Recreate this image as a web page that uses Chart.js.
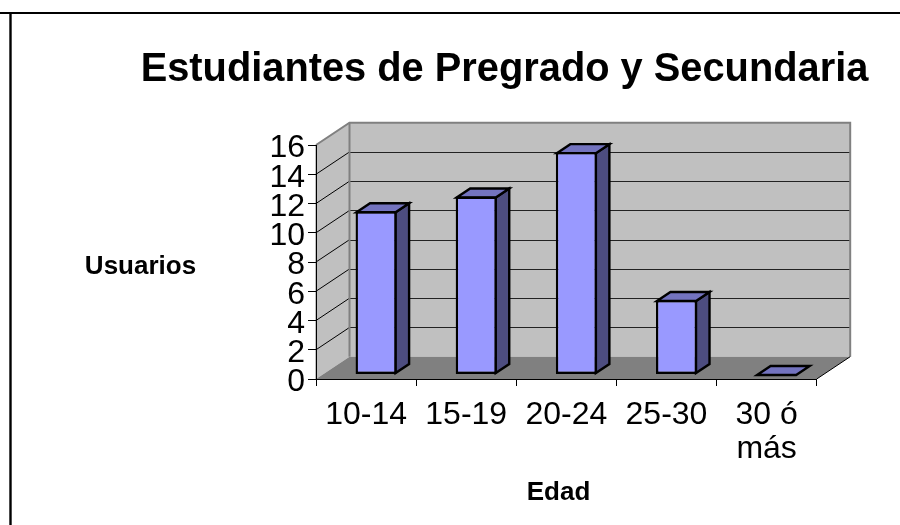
<!DOCTYPE html>
<html><head><meta charset="utf-8">
<style>html,body{margin:0;padding:0;background:#fff}#w{position:relative;width:900px;height:525px}canvas{display:block}</style>
<script src="https://cdn.jsdelivr.net/npm/chart.js@4"></script></head>
<body><div id="w"><canvas id="c" width="900" height="525"></canvas></div>
<script>
const categories = ['10-14','15-19','20-24','25-30',['30 ó','más']];
const users = [11,12,15,5,0];
const yTicks = [0,2,4,6,8,10,12,14,16];
const chartTitle = 'Estudiantes de Pregrado y Secundaria';
const yTitle = 'Usuarios';
const xTitle = 'Edad';

const wallDx = 33.5, wallDy = -22.3, barDx = 13.5, barDy = -9, shiftX = 10, shiftY = -5;
const F = 'Arial, "Liberation Sans", sans-serif';

function poly(ctx, pts, fill, stroke, lw){
  ctx.beginPath();
  pts.forEach((p,i)=> i?ctx.lineTo(p[0],p[1]):ctx.moveTo(p[0],p[1]));
  ctx.closePath();
  if(fill){ctx.fillStyle=fill;ctx.fill();}
  if(stroke){ctx.strokeStyle=stroke;ctx.lineWidth=lw;ctx.lineJoin='miter';ctx.stroke();}
}
function line(ctx,x1,y1,x2,y2,c,w){ctx.strokeStyle=c;ctx.lineWidth=w;ctx.beginPath();ctx.moveTo(x1,y1);ctx.lineTo(x2,y2);ctx.stroke();}

const box3d = {
  id:'box3d',
  beforeDraw(chart){
    const ctx=chart.ctx, a=chart.chartArea, ys=chart.scales.y;
    const L=a.left,R=a.right,T=a.top,B=a.bottom;
    ctx.save();
    // frame
    line(ctx,0,13,900,13,'#000',2);
    line(ctx,10.5,12,10.5,525,'#000',2.4);
    // walls
    poly(ctx,[[L+wallDx,T+wallDy],[R+wallDx,T+wallDy],[R+wallDx,B+wallDy],[L+wallDx,B+wallDy]],'#c0c0c0');
    poly(ctx,[[L,T],[L+wallDx,T+wallDy],[L+wallDx,B+wallDy],[L,B]],'#c0c0c0');
    poly(ctx,[[L,B],[L+wallDx,B+wallDy],[R+wallDx,B+wallDy],[R,B]],'#808080');
    // gridlines
    yTicks.forEach(v=>{
      if(v===0||v===16) return;
      const y=ys.getPixelForValue(v);
      line(ctx,L,y,L+wallDx,y+wallDy,'#000',1);
      line(ctx,L+wallDx,Math.round(y+wallDy)+.5,R+wallDx,Math.round(y+wallDy)+.5,'#222',1);
    });
    // wall edges
    ctx.lineJoin='miter';
    ctx.strokeStyle='#808080';ctx.lineWidth=2;
    ctx.beginPath();ctx.moveTo(L,T);ctx.lineTo(L+wallDx,T+wallDy);ctx.lineTo(R+wallDx,T+wallDy);ctx.lineTo(R+wallDx,B+wallDy);ctx.stroke();
    ctx.beginPath();ctx.moveTo(L+wallDx,T+wallDy);ctx.lineTo(L+wallDx,B+wallDy);ctx.stroke();
    line(ctx,L,T,L,B,'#808080',1);
    line(ctx,R,B,R+wallDx,B+wallDy,'#000',1);
    ctx.restore();
  },
  beforeDatasetsDraw(chart){
    const ctx=chart.ctx;
    ctx.save();
    ctx.translate(shiftX,shiftY);
    chart.getDatasetMeta(0).data.forEach(el=>{
      const p=el.getProps(['x','y','base','width'],true);
      const l=p.x-p.width/2+1,r=p.x+p.width/2-1,t=p.y+1,b=p.base-1;
      if(b>t) poly(ctx,[[r,t],[r+barDx,t+barDy],[r+barDx,b+barDy],[r,b]],'#4d4d80','#000',2.4);
      poly(ctx,[[l,t],[l+barDx,t+barDy],[r+barDx,t+barDy],[r,t]],'#7373bf','#000',2.4);
    });
  },
  afterDatasetsDraw(chart){
    chart.ctx.restore();
  },
  afterDraw(chart){
    const ctx=chart.ctx;
    ctx.save();
    ctx.fillStyle='#000';ctx.textAlign='center';ctx.textBaseline='alphabetic';
    ctx.font='bold 39.8px '+F;ctx.fillText(chartTitle,504.5,81);
    ctx.font='bold 26px '+F;ctx.fillText(yTitle,140.5,274);
    ctx.fillText(xTitle,558.5,500);
    ctx.restore();
  }
};

new Chart(document.getElementById('c'),{
  type:'bar',
  data:{labels:categories,datasets:[{
    data:users,yAxisID:'yBar',backgroundColor:'#9999ff',borderColor:'#000',borderWidth:2.4,
    barPercentage:0.41,categoryPercentage:1,clip:false,borderSkipped:false
  }]},
  options:{
    responsive:false,animation:false,
    layout:{padding:{top:145,right:83.3,left:0,bottom:0}},
    plugins:{legend:{display:false},title:{display:false},tooltip:{enabled:false}},
    scales:{
      x:{
        afterFit(s){s.height=146;},
        grid:{drawOnChartArea:false,drawTicks:true,tickLength:7,color:'#000',offset:true},
        border:{color:'#000',width:1},
        ticks:{color:'#000',font:{family:F,size:32,lineHeight:1.07},maxRotation:0,autoSkip:false,padding:12}
      },
      y:{
        min:0,max:16,
        afterFit(s){s.width=316;},
        afterBuildTicks(s){s.ticks=yTicks.map(v=>({value:v}));},
        grid:{drawOnChartArea:false,drawTicks:true,tickLength:8,color:'#000'},
        border:{color:'#000',width:1},
        ticks:{color:'#000',font:{family:F,size:32},padding:3,autoSkip:false,labelOffset:3.5}
      },
      yBar:{min:0,max:15.82,display:false}
    }
  },
  plugins:[box3d]
});
</script></body></html>
